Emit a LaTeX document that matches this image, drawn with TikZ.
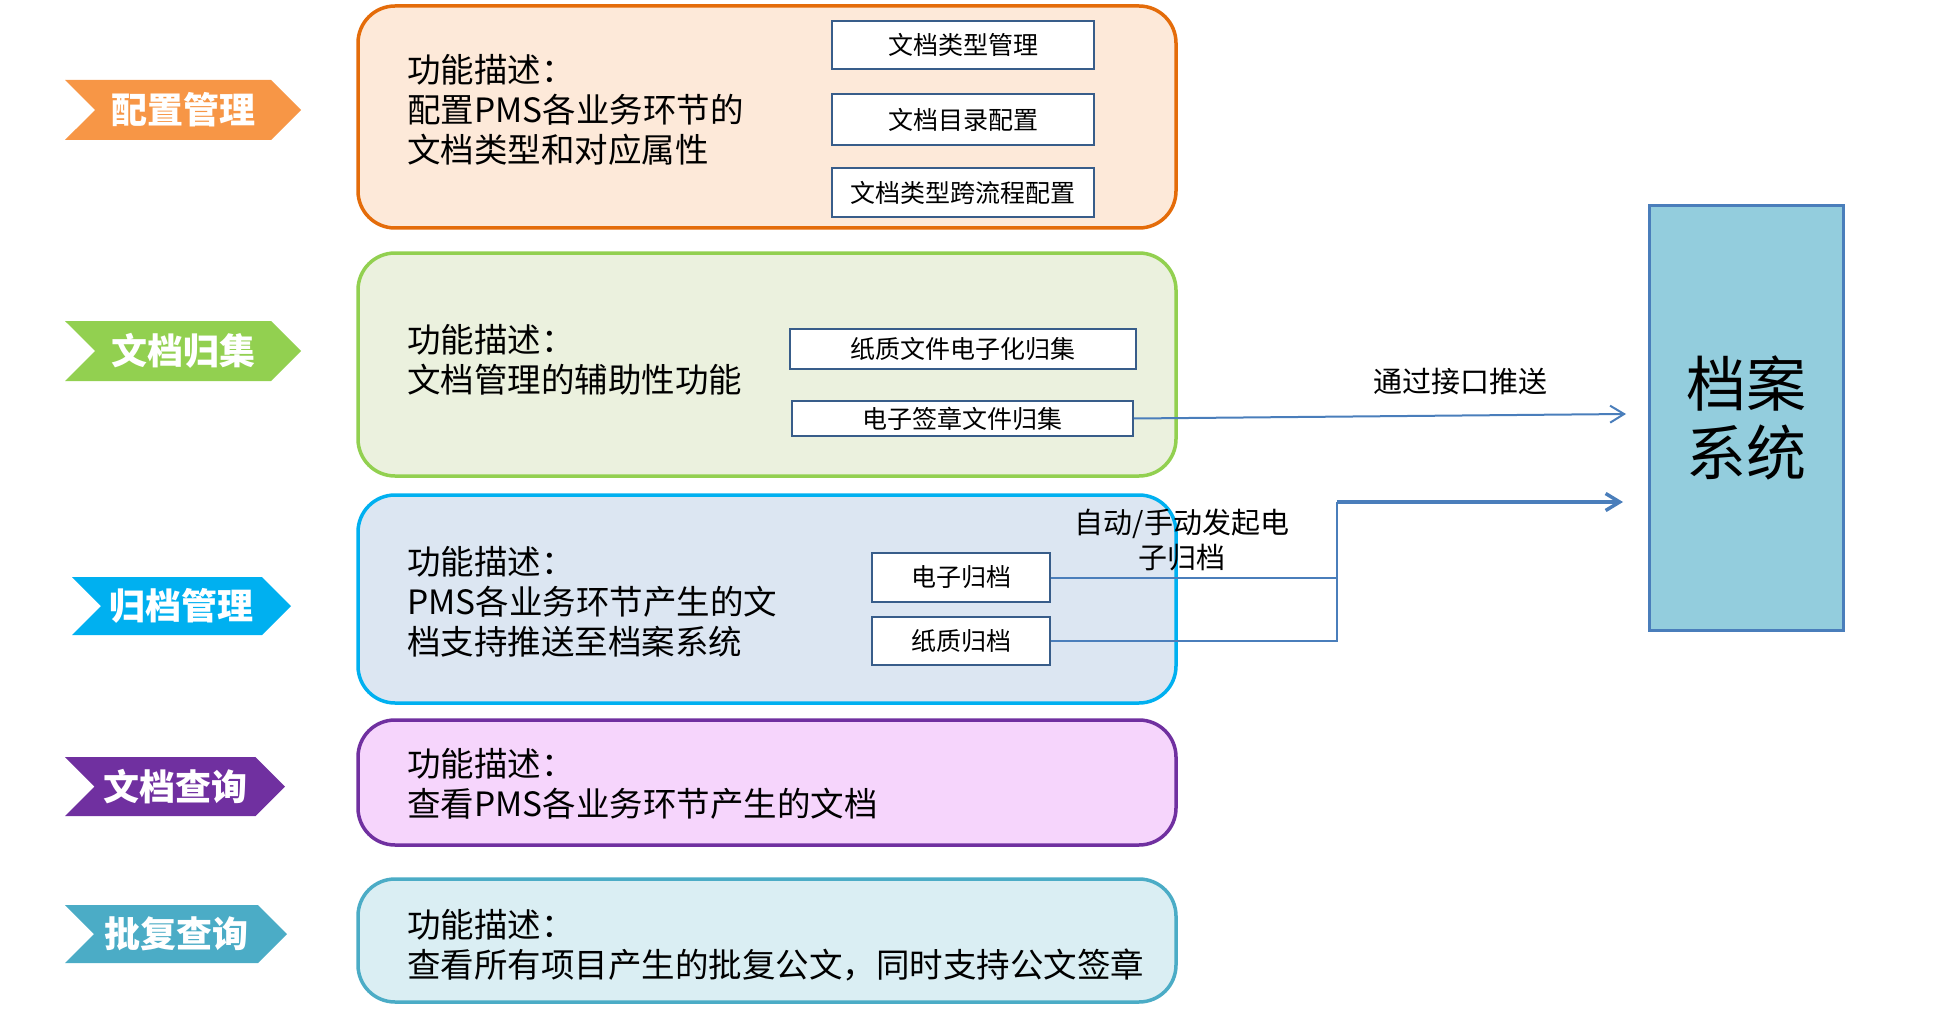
\documentclass[tikz,border=0pt]{standalone}
\usepackage{fontspec}
\setmainfont{Noto Sans CJK SC}
\usepackage{tikz}
\usetikzlibrary{shapes.symbols, arrows.meta, positioning}
\definecolor{cfgline}{HTML}{E46C0A}
\definecolor{cfgfill}{HTML}{FDE9D9}
\definecolor{cfgtag}{HTML}{F79646}
\definecolor{colline}{HTML}{92D050}
\definecolor{colfill}{HTML}{EBF1DE}
\definecolor{arcline}{HTML}{00B0F0}
\definecolor{arcfill}{HTML}{DCE6F2}
\definecolor{qryline}{HTML}{7030A0}
\definecolor{qryfill}{HTML}{F6D5FC}
\definecolor{aprline}{HTML}{4BACC6}
\definecolor{aprfill}{HTML}{DAEEF3}
\definecolor{itemblue}{HTML}{385D8A}
\definecolor{linkblue}{HTML}{4A7EBB}
\definecolor{sysfill}{HTML}{93CDDD}
\tikzset{
  tagbox/.style={
    signal, signal from=west, signal to=east, signal pointer angle=90,
    fill=#1, draw=none, text=white, inner sep=0pt,
    font=\fontsize{36}{40}\selectfont\bfseries,
    minimum width=236pt, minimum height=60pt
  },
  funcbox/.style 2 args={
    draw=#1, fill=#2, line width=3.5pt, rounded corners=37pt,
    minimum width=818pt
  },
  itembox/.style={
    draw=itemblue, fill=white, line width=1.5pt, inner sep=0pt,
    font=\fontsize{25}{28}\selectfont
  },
  desctext/.style={anchor=west, align=left, inner sep=0pt, font=\fontsize{33.5}{40}\selectfont},
  sysbox/.style={
    draw=linkblue, fill=sysfill, line width=3pt, align=center,
    minimum width=194pt, minimum height=424pt,
    font=\fontsize{60}{69}\selectfont
  },
  linkline/.style={draw=linkblue, line width=2pt},
  linkarrow/.style={linkline, -{Straight Barb[length=14pt,width=17pt]}},
  linklabel/.style={font=\fontsize{29}{35}\selectfont, align=center, inner sep=0pt},
}
\begin{document}
\begin{tikzpicture}[x=1pt, y=-1pt]
  \useasboundingbox (0,0) rectangle (1957,1011);

  \node[tagbox=cfgtag] (cfgtag) at (183,110) {配置管理};
  \node[tagbox=colline] (coltag) at (183,351) {文档归集};
  \node[tagbox=arcline, minimum width=219pt, minimum height=58pt] (arctag) at (181.5,606) {归档管理};
  \node[tagbox=qryline, minimum width=220pt, minimum height=59pt] (qrytag) at (175,786.5) {文档查询};
  \node[tagbox=aprline, minimum width=222pt, minimum height=58pt] (aprtag) at (176,934) {批复查询};

  \node[funcbox={cfgline}{cfgfill}, minimum height=222pt] (cfg) at (767,117) {};
  \node[funcbox={colline}{colfill}, minimum height=223pt] (col) at (767,364.5) {};
  \node[funcbox={arcline}{arcfill}, minimum height=208pt] (arc) at (767,599) {};
  \node[funcbox={qryline}{qryfill}, minimum height=125pt] (qry) at (767,782.5) {};
  \node[funcbox={aprline}{aprfill}, minimum height=123pt] (apr) at (767,940.5) {};

  \node[desctext] (cfgtxt) at (407,110) {功能描述：\\配置PMS各业务环节的\\文档类型和对应属性};
  \node[desctext] (coltxt) at (407,360) {功能描述：\\文档管理的辅助性功能};
  \node[desctext] (arctxt) at (407,602) {功能描述：\\PMS各业务环节产生的文\\档支持推送至档案系统};
  \node[desctext] (qrytxt) at (407,784) {功能描述：\\查看PMS各业务环节产生的文档};
  \node[desctext] (aprtxt) at (407,945) {功能描述：\\查看所有项目产生的批复公文，同时支持公文签章};

  \node[itembox, minimum width=262pt, minimum height=48pt] (typemgr) at (963,45) {文档类型管理};
  \node[itembox, minimum width=262pt, minimum height=51pt] (dircfg) at (963,119.5) {文档目录配置};
  \node[itembox, minimum width=262pt, minimum height=49pt] (flowcfg) at (963,192.5) {文档类型跨流程配置};
  \node[itembox, minimum width=346pt, minimum height=40pt] (paperdig) at (963,349) {纸质文件电子化归集};
  \node[itembox, minimum width=341pt, minimum height=35pt] (sign) at (962.5,418.5) {电子签章文件归集};
  \node[itembox, minimum width=178pt, minimum height=49pt] (earch) at (961,577.5) {电子归档};
  \node[itembox, minimum width=178pt, minimum height=48pt] (parch) at (961,641) {纸质归档};

  \node[sysbox] (sys) at (1746,418) {档案\\系统};

  \coordinate (pushend) at (1626,414);
  \coordinate (joint) at (1337,502);
  \coordinate (archend) at (1623,502);
  \draw[linkarrow] (sign.east) -- (pushend);
  \draw[linkline] (earch.east) -| (joint);
  \draw[linkline] (parch.east) -| (joint);
  \draw[linkarrow, line width=3.5pt] (joint) -- (archend);

  \node[linklabel] (pushlbl) at (1460,382) {通过接口推送};
  \node[linklabel] (autolbl) at (1182,540) {自动/手动发起电\\子归档};
\end{tikzpicture}
\end{document}
